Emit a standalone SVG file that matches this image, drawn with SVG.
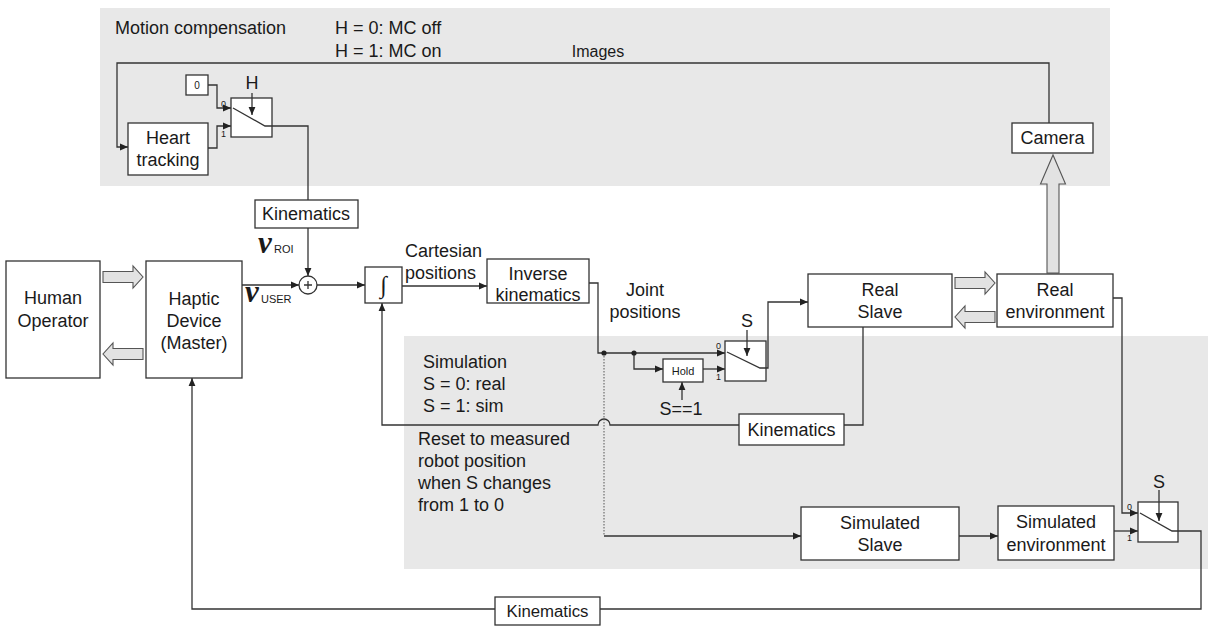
<svg xmlns="http://www.w3.org/2000/svg" width="1208" height="628" viewBox="0 0 1208 628">
<style>
text{font-family:"Liberation Sans",Arial,sans-serif;fill:#1a1a1a}
.t{font-size:18px;text-anchor:middle;dominant-baseline:central}
.l{font-size:18px;dominant-baseline:central}
.s{font-size:9px;dominant-baseline:central}
.box{fill:#fff;stroke:#333;stroke-width:1.3}
.ln{fill:none;stroke:#333;stroke-width:1.3}
.dot{fill:none;stroke:#555;stroke-width:1;stroke-dasharray:1.5 1.5}
.hol{fill:#e2e2e2;stroke:#555;stroke-width:1.1}
.v{font-family:"Liberation Serif","Times New Roman",serif;font-style:italic;font-weight:bold;font-size:31px}
.sub{font-size:11px}
</style>
<defs>
<marker id="a" viewBox="0 0 8 8" refX="8" refY="4" markerWidth="8" markerHeight="8" markerUnits="userSpaceOnUse" orient="auto">
<path d="M0,0.6 L8,4 L0,7.4 z" fill="#222"/>
</marker>
</defs>
<rect width="1208" height="628" fill="#fff"/>
<rect id="panel-mc" x="100" y="8" width="1010" height="178" fill="#e8e8e8"/>
<rect id="panel-sim" x="404" y="336" width="804" height="233" fill="#e8e8e8"/>

<g id="labels">
<text class="l" x="115" y="28">Motion compensation</text>
<text class="l" x="335" y="28">H = 0: MC off</text>
<text class="l" x="335" y="51">H = 1: MC on</text>
<text class="t" x="598" y="51" style="font-size:16px">Images</text>
<text class="l" x="405" y="251">Cartesian</text>
<text class="l" x="405" y="273">positions</text>
<text class="t" x="645" y="290">Joint</text>
<text class="t" x="645" y="312">positions</text>
<text class="l" x="423" y="362">Simulation</text>
<text class="l" x="423" y="384">S = 0: real</text>
<text class="l" x="423" y="406">S = 1: sim</text>
<text class="l" x="418" y="439">Reset to measured</text>
<text class="l" x="418" y="461">robot position</text>
<text class="l" x="418" y="483">when S changes</text>
<text class="l" x="418" y="505">from 1 to 0</text>
<text class="t" x="681" y="409">S==1</text>
<text class="v" x="258" y="253">v</text><text class="sub" x="274" y="253">ROI</text>
<text class="v" x="245" y="302">v</text><text class="sub" x="261" y="303">USER</text>
</g>

<g id="connectors">
<path class="ln" d="M1049,123 V63 H117 V147 H128" marker-end="url(#a)"/>
<path class="ln" d="M208,85 H217 V108 H231" marker-end="url(#a)"/>
<path class="ln" d="M208,148 H217 V126 H231" marker-end="url(#a)"/>
<path class="ln" d="M272,126 H308 V200"/>
<path class="ln" d="M308,228 V276" marker-end="url(#a)"/>
<path class="ln" d="M242,285 H299" marker-end="url(#a)"/>
<path class="ln" d="M317,285 H365" marker-end="url(#a)"/>
<path class="ln" d="M402,286 H487" marker-end="url(#a)"/>
<path class="ln" d="M589,283 H598 V353 H725" marker-end="url(#a)"/>
<path class="ln" d="M634,353 V369 H663" marker-end="url(#a)"/>
<path class="ln" d="M703,369 H725" marker-end="url(#a)"/>
<path class="ln" d="M682,400 V382" marker-end="url(#a)"/>
<path class="ln" d="M766,368 H768 V302 H808" marker-end="url(#a)"/>
<path class="ln" d="M863,327 V425 H844"/>
<path class="ln" d="M739,425 H610 A6,6 0 0 0 598,425 H382 V303" marker-end="url(#a)"/>
<path class="dot" d="M604,353 V536"/>
<path class="ln" d="M604,536 H801" marker-end="url(#a)"/>
<path class="ln" d="M959,536 H998" marker-end="url(#a)"/>
<path class="ln" d="M1114,531 H1138" marker-end="url(#a)"/>
<path class="ln" d="M1113,298 H1122 V513 H1138" marker-end="url(#a)"/>
<path class="ln" d="M1178,531 H1201 V609 H192 V378" marker-end="url(#a)"/>
<circle cx="604" cy="353" r="2.6" fill="#222"/>
<circle cx="634" cy="353" r="2.6" fill="#222"/>
<path class="hol" d="M103,271.5 H133 V266 L143,277 L133,288 V282.5 H103 z"/>
<path class="hol" d="M143,348.5 H113 V343 L103,354 L113,365 V359.5 H143 z"/>
<path class="hol" d="M955,277.5 H985 V272 L995,283 L985,294 V288.5 H955 z"/>
<path class="hol" d="M995,311.5 H965 V306 L955,317 L965,328 V322.5 H995 z"/>
<path class="hol" d="M1047,273 V184 H1040.5 L1053,155 L1065.5,184 H1059 V273 z"/>
</g>

<g id="human-operator"><rect class="box" x="6" y="261" width="94" height="117"/>
<text class="t" x="53" y="298">Human</text><text class="t" x="53" y="321">Operator</text></g>
<g id="haptic-device"><rect class="box" x="146" y="261" width="96" height="117"/>
<text class="t" x="194" y="299">Haptic</text><text class="t" x="194" y="321">Device</text><text class="t" x="194" y="343">(Master)</text></g>
<g id="const-0"><rect class="box" x="186" y="75" width="22" height="20"/><text class="t" x="197" y="85" style="font-size:10px">0</text></g>
<g id="heart-tracking"><rect class="box" x="128" y="123" width="80" height="52"/>
<text class="t" x="168" y="138">Heart</text><text class="t" x="168" y="160">tracking</text></g>
<g id="switch-h"><rect class="box" x="231" y="98" width="41" height="39"/>
<path class="ln" d="M233,108 L265,126 H272"/>
<path class="ln" d="M252,93 V115" marker-end="url(#a)"/>
<text class="t" x="252" y="83">H</text>
<text class="s" x="221" y="104">0</text><text class="s" x="221" y="134">1</text></g>
<g id="kinematics-roi"><rect class="box" x="255" y="200" width="103" height="28"/><text class="t" x="306" y="214">Kinematics</text></g>
<g id="sum"><circle cx="308" cy="285" r="9" fill="#fff" stroke="#333" stroke-width="1.3"/>
<path class="ln" d="M304,285 H312 M308,281 V289"/></g>
<g id="integrator"><rect class="box" x="365" y="267" width="37" height="36"/>
<text class="t" x="383.5" y="285" style="font-family:'Liberation Serif',serif;font-size:24px">∫</text></g>
<g id="inverse-kinematics"><rect class="box" x="487" y="259" width="102" height="44"/>
<text class="t" x="538" y="274">Inverse</text><text class="t" x="538" y="295">kinematics</text></g>
<g id="hold"><rect class="box" x="663" y="359" width="40" height="23"/><text class="t" x="683" y="370.5" style="font-size:11px">Hold</text></g>
<g id="switch-s"><rect class="box" x="725" y="341" width="41" height="40"/>
<path class="ln" d="M727,352 L760,368 H766"/>
<path class="ln" d="M747,330 V356" marker-end="url(#a)"/>
<text class="t" x="747" y="321">S</text>
<text class="s" x="716" y="346">0</text><text class="s" x="716" y="377">1</text></g>
<g id="real-slave"><rect class="box" x="808" y="274" width="144" height="53"/>
<text class="t" x="880" y="290">Real</text><text class="t" x="880" y="312">Slave</text></g>
<g id="real-environment"><rect class="box" x="997" y="274" width="116" height="53"/>
<text class="t" x="1055" y="290">Real</text><text class="t" x="1055" y="312">environment</text></g>
<g id="camera"><rect class="box" x="1012" y="123" width="81" height="30"/><text class="t" x="1052.5" y="138">Camera</text></g>
<g id="kinematics-real"><rect class="box" x="739" y="414" width="105" height="31"/><text class="t" x="791.5" y="430">Kinematics</text></g>
<g id="simulated-slave"><rect class="box" x="801" y="507" width="158" height="53"/>
<text class="t" x="880" y="523">Simulated</text><text class="t" x="880" y="545">Slave</text></g>
<g id="simulated-environment"><rect class="box" x="998" y="506" width="116" height="54"/>
<text class="t" x="1056" y="522">Simulated</text><text class="t" x="1056" y="545">environment</text></g>
<g id="switch-s2"><rect class="box" x="1138" y="502" width="40" height="40"/>
<path class="ln" d="M1140,513 L1172,531 H1178"/>
<path class="ln" d="M1159,490 V521" marker-end="url(#a)"/>
<text class="t" x="1159" y="482">S</text>
<text class="s" x="1127" y="507">0</text><text class="s" x="1127" y="538">1</text></g>
<g id="kinematics-master"><rect class="box" x="495" y="597" width="105" height="28"/>
<text class="t" x="547.5" y="611" style="font-size:16px" textLength="82" lengthAdjust="spacingAndGlyphs">Kinematics</text></g>
</svg>
